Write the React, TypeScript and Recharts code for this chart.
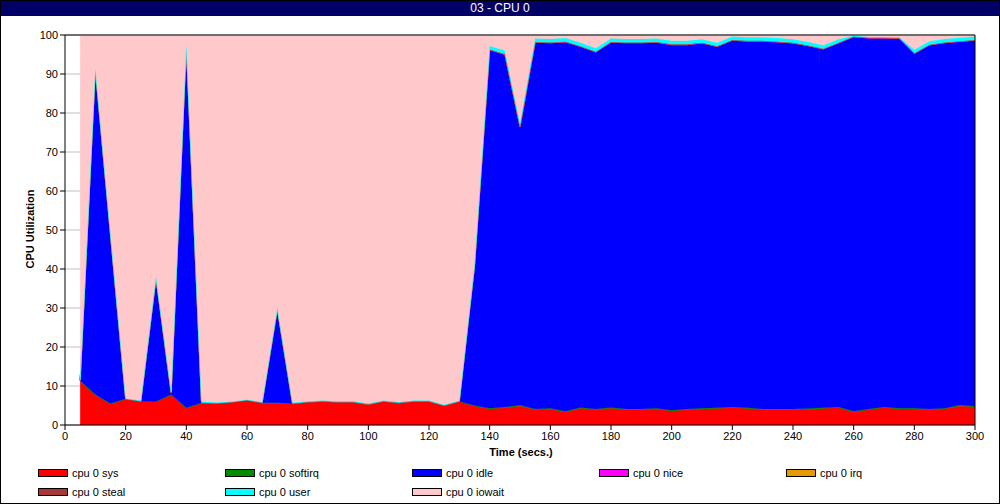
import React from "react";
import { Area, AreaChart, CartesianGrid, ReferenceLine, XAxis, YAxis } from "recharts";

const times = [
  5, 10, 15, 20, 25, 30, 35, 40, 45, 50, 55, 60, 65, 70, 75, 80, 85, 90, 95, 100,
  105, 110, 115, 120, 125, 130, 135, 140, 145, 150, 155, 160, 165, 170, 175, 180, 185, 190, 195, 200,
  205, 210, 215, 220, 225, 230, 235, 240, 245, 250, 255, 260, 265, 270, 275, 280, 285, 290, 295, 300,
];

const sys = [
  11.3, 7.7, 5.4, 6.6, 6.0, 5.9, 7.7, 4.3, 5.6, 5.5, 5.8, 6.3, 5.6, 5.6, 5.4, 5.8, 6.0, 5.8, 5.8, 5.2,
  6.0, 5.6, 6.0, 6.0, 4.9, 6.0, 4.9, 4.1, 4.4, 4.9, 3.9, 4.1, 3.3, 4.3, 3.9, 4.3, 3.9, 3.9, 4.1, 3.6,
  3.9, 4.1, 4.2, 4.4, 4.2, 3.9, 3.9, 3.9, 4.0, 4.2, 4.4, 3.3, 3.9, 4.4, 4.1, 4.1, 3.9, 4.1, 4.9, 4.6,
];

const softirq = [
  0.1, 0.1, 0.1, 0.1, 0.1, 0.1, 0.1, 0.1, 0.1, 0.1, 0.1, 0.1, 0.1, 0.1, 0.1, 0.1, 0.1, 0.1, 0.1, 0.1,
  0.1, 0.1, 0.1, 0.1, 0.1, 0.1, 0.1, 0.2, 0.2, 0.2, 0.2, 0.2, 0.2, 0.2, 0.2, 0.2, 0.2, 0.2, 0.2, 0.2,
  0.2, 0.2, 0.2, 0.2, 0.2, 0.2, 0.2, 0.2, 0.2, 0.2, 0.2, 0.2, 0.2, 0.2, 0.2, 0.2, 0.2, 0.2, 0.2, 0.2,
];

const idle = [
  0, 83.4, 43.2, 0, 0, 31.7, 0.4, 92.8, 0, 0, 0, 0, 0, 24.0, 0, 0, 0, 0, 0, 0,
  0, 0, 0, 0, 0, 0, 35.7, 91.8, 90.3, 71.2, 93.9, 93.6, 94.6, 92.4, 91.4, 93.5, 93.8, 93.8, 93.7, 93.6,
  93.3, 93.5, 92.5, 93.9, 93.9, 94.2, 94.0, 93.7, 92.9, 91.9, 93.2, 95.9, 95.0, 94.5, 94.7, 90.8, 93.2, 93.6, 93.1, 93.7,
];

const nice = [
  0, 0, 0, 0, 0, 0, 0, 0, 0, 0, 0, 0, 0, 0, 0, 0, 0, 0, 0, 0,
  0, 0, 0, 0, 0, 0, 0, 0.2, 0.2, 0.2, 0.2, 0.2, 0.2, 0.2, 0.2, 0.2, 0.2, 0.2, 0.2, 0.2,
  0.2, 0.2, 0.2, 0.2, 0.2, 0.2, 0.2, 0.2, 0.2, 0.2, 0.2, 0.2, 0.2, 0.2, 0.2, 0.2, 0.2, 0.2, 0.2, 0.2,
];

const irq = [
  0, 0, 0, 0, 0, 0, 0, 0, 0, 0, 0, 0, 0, 0, 0, 0, 0, 0, 0, 0,
  0, 0, 0, 0, 0, 0, 0, 0, 0, 0, 0, 0, 0, 0, 0, 0, 0, 0, 0, 0,
  0, 0, 0, 0, 0, 0, 0, 0, 0, 0, 0, 0, 0, 0, 0, 0, 0, 0, 0, 0,
];

const steal = [
  0, 0, 0, 0, 0, 0, 0, 0, 0, 0, 0, 0, 0, 0, 0, 0, 0, 0, 0, 0,
  0, 0, 0, 0, 0, 0, 0, 0, 0, 0, 0, 0, 0, 0, 0, 0, 0, 0, 0, 0,
  0, 0, 0, 0, 0, 0, 0, 0, 0, 0, 0, 0, 0, 0, 0, 0, 0, 0, 0, 0,
];

const user = [
  0.1, 0.3, 0.3, 0.1, 0.2, 0.3, 0.3, 0.3, 0.3, 0.2, 0.1, 0.1, 0.2, 0.3, 0.2, 0.2, 0.2, 0.2, 0.2, 0.2,
  0.2, 0.2, 0.2, 0.2, 0.2, 0.1, 0.3, 0.9, 0.9, 0.9, 0.9, 0.9, 0.9, 0.9, 0.9, 0.9, 0.9, 0.9, 0.9, 0.9,
  0.9, 0.9, 0.9, 0.9, 0.9, 0.9, 0.9, 0.9, 0.9, 0.9, 0.9, 0.2, 0.2, 0.2, 0.2, 0.9, 0.9, 0.9, 0.9, 0.9,
];

const iowait = [
  88.5, 8.5, 51.0, 93.2, 93.7, 62.0, 91.5, 2.5, 94.0, 94.2, 94.0, 93.5, 94.1, 70.0, 94.3, 93.9, 93.7, 93.9, 93.9, 94.5,
  93.7, 94.1, 93.7, 93.7, 94.8, 93.8, 59.0, 2.8, 4.0, 22.6, 0.9, 1.0, 0.8, 2.0, 3.4, 0.9, 1.0, 1.0, 0.9, 1.5,
  1.5, 1.1, 2.0, 0.4, 0.6, 0.6, 0.8, 1.1, 1.8, 2.6, 1.1, 0.2, 0.5, 0.5, 0.6, 3.8, 1.6, 1.0, 0.7, 0.4,
];

const xTicks = [0, 20, 40, 60, 80, 100, 120, 140, 160, 180, 200, 220, 240, 260, 280, 300];
const yTicks = [0, 10, 20, 30, 40, 50, 60, 70, 80, 90, 100];

const series = [
  { key: "sys", name: "cpu 0 sys", color: "#ff0000" },
  { key: "softirq", name: "cpu 0 softirq", color: "#008c00" },
  { key: "idle", name: "cpu 0 idle", color: "#0000ff" },
  { key: "nice", name: "cpu 0 nice", color: "#ff00ff" },
  { key: "irq", name: "cpu 0 irq", color: "#e69a00" },
  { key: "steal", name: "cpu 0 steal", color: "#a83838" },
  { key: "user", name: "cpu 0 user", color: "#00ffff" },
  { key: "iowait", name: "cpu 0 iowait", color: "#ffc8cb" },
];

const data = times.map((t, i) => ({
  t,
  sys: sys[i],
  softirq: softirq[i],
  idle: idle[i],
  nice: nice[i],
  irq: irq[i],
  steal: steal[i],
  user: user[i],
  iowait: iowait[i],
}));

const font = "'Liberation Sans', Arial, sans-serif";

export default function App() {
  return (
    <div
      style={{
        position: "fixed",
        left: 0,
        top: 0,
        width: 1000,
        height: 504,
        boxSizing: "border-box",
        border: "1px solid #000",
        background: "#fff",
        fontFamily: font,
        overflow: "hidden",
      }}
    >
      <div
        style={{
          position: "absolute",
          left: 0,
          top: 0,
          width: 998,
          height: 15,
          background: "#000066",
          color: "#fff",
          fontSize: 12,
          lineHeight: "15px",
          textAlign: "center",
        }}
      >
        03 - CPU 0
      </div>

      <div style={{ position: "absolute", left: -1, top: -1 }}>
        <AreaChart width={1000} height={460} data={data} margin={{ top: 35, right: 25, left: 0, bottom: 0 }}>
          <CartesianGrid vertical={false} stroke="#c0c0c0" />
          <XAxis
            dataKey="t"
            type="number"
            domain={[0, 300]}
            ticks={xTicks}
            height={35}
            tick={{ fill: "#000", fontSize: 11, fontFamily: font }}
            tickLine={{ stroke: "#000" }}
            axisLine={{ stroke: "#000" }}
            tickSize={5}
          />
          <YAxis
            domain={[0, 100]}
            ticks={yTicks}
            width={65}
            allowDataOverflow
            tick={{ fill: "#000", fontSize: 11, fontFamily: font }}
            tickLine={{ stroke: "#000" }}
            axisLine={{ stroke: "#000" }}
            tickSize={5}
          />
          {series.map((s) => (
            <Area
              key={s.key}
              type="linear"
              dataKey={s.key}
              name={s.name}
              stackId="cpu"
              stroke={s.color}
              strokeWidth={1}
              fill={s.color}
              fillOpacity={1}
              dot={false}
              activeDot={false}
              isAnimationActive={false}
            />
          ))}
          <ReferenceLine y={100} stroke="#000" />
          <ReferenceLine x={300} stroke="#000" />
        </AreaChart>
      </div>

      <div
        style={{
          position: "absolute",
          left: 420,
          top: 445,
          width: 200,
          textAlign: "center",
          fontSize: 11,
          fontWeight: "bold",
        }}
      >
        Time (secs.)
      </div>
      <div
        style={{
          position: "absolute",
          left: 29,
          top: 229,
          width: 0,
          height: 0,
        }}
      >
        <div
          style={{
            position: "absolute",
            left: -60,
            top: -7,
            width: 120,
            textAlign: "center",
            fontSize: 11,
            fontWeight: "bold",
            transform: "rotate(-90deg)",
          }}
        >
          CPU Utilization
        </div>
      </div>

      {series.map((s, i) => {
        const col = i % 5;
        const row = Math.floor(i / 5);
        return (
          <div
            key={s.key}
            style={{
              position: "absolute",
              left: 37 + col * 187,
              top: 466 + row * 19,
              display: "flex",
              alignItems: "center",
              fontSize: 11,
              whiteSpace: "nowrap",
            }}
          >
            <span
              style={{
                display: "inline-block",
                width: 28,
                height: 6,
                background: s.color,
                border: "1px solid #000",
                marginRight: 4,
              }}
            />
            {s.name}
          </div>
        );
      })}
    </div>
  );
}
